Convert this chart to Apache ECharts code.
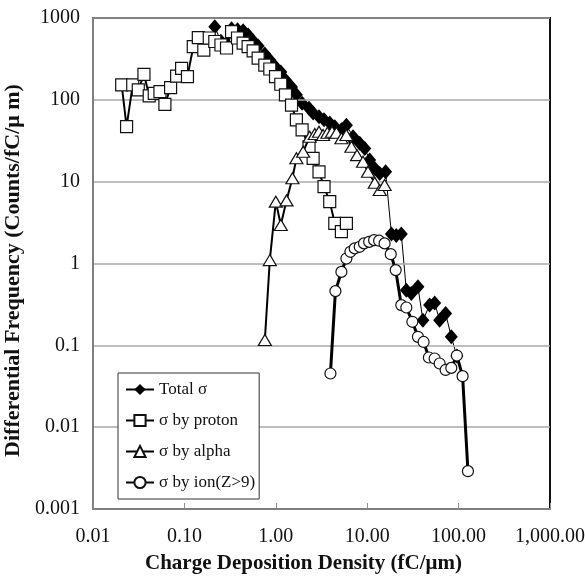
<!DOCTYPE html>
<html>
<head>
<meta charset="utf-8">
<script src="https://cdn.jsdelivr.net/npm/echarts@6/dist/echarts.min.js"></script>
<style>
  html, body { margin: 0; padding: 0; background: #fff; }
  #chart { width: 585px; height: 577px; }
</style>
</head>
<body>
<div id="chart"></div>
<script>
// Charge deposition density bins (fC/um) and differential frequencies (counts/fC/um)
const totalX = [0.215, 0.251, 0.289, 0.328, 0.381, 0.439, 0.498, 0.565, 0.641, 0.758, 0.86, 0.993, 1.134, 1.276, 1.486, 1.68, 1.94, 2.31, 2.56, 2.97, 3.37, 3.89, 4.42, 5.22, 5.92, 7.0, 8.28, 9.4, 10.65, 12.1, 13.7, 15.9, 18.4, 20.8, 23.6, 26.8, 30.4, 35.9, 40.7, 48.2, 54.7, 62, 72.1, 83.2, 95.7];
const totalY = [780, 520, 480, 740, 720, 700, 619, 523, 455, 363, 307, 252, 219, 175, 143, 115, 91, 79, 69, 62, 57, 52, 47, 43, 49, 35.4, 29.4, 25.5, 18.4, 14.5, 12.6, 13.2, 2.3, 2.2, 2.3, 0.47, 0.43, 0.52, 0.203, 0.31, 0.33, 0.203, 0.245, 0.127, 0.074];

const protonX = [0.0206, 0.0233, 0.0272, 0.0313, 0.0361, 0.0412, 0.0468, 0.054, 0.0612, 0.0706, 0.0822, 0.0932, 0.108, 0.125, 0.142, 0.163, 0.187, 0.215, 0.251, 0.289, 0.328, 0.381, 0.439, 0.498, 0.565, 0.641, 0.758, 0.86, 0.993, 1.134, 1.276, 1.486, 1.68, 1.94, 2.31, 2.56, 2.97, 3.37, 3.89, 4.42, 5.22, 5.92];
const protonY = [152, 47, 152, 132, 205, 112, 120, 126, 88, 141, 195, 243, 192, 446, 575, 406, 570, 516, 468, 430, 680, 570, 494, 446, 396, 324, 266, 238, 192, 155, 115, 86, 57, 43, 26.7, 19.3, 13.2, 8.7, 5.7, 3.1, 2.45, 3.1];

const alphaX = [0.759, 0.86, 1.0, 1.134, 1.31, 1.52, 1.68, 1.99, 2.35, 2.67, 2.97, 3.29, 3.67, 4.12, 4.61, 5.22, 5.92, 6.72, 7.74, 9.0, 10.2, 12.1, 13.7, 15.5];
const alphaY = [0.116, 1.1, 5.7, 2.95, 5.9, 11, 19.3, 23.2, 35.4, 38.3, 40.7, 37.2, 39.6, 40.7, 39.6, 33.9, 37.2, 26.7, 21.1, 17.5, 13.2, 9.7, 7.9, 9.1];

const ionX = [3.96, 4.49, 5.22, 5.92, 6.55, 7.3, 8.28, 9.23, 10.5, 11.9, 13.5, 15.5, 18.1, 20.5, 23.6, 26.8, 31.2, 35.9, 41.4, 47.3, 54.7, 62, 72.1, 83.2, 95.7, 110.6, 126.5];
const ionY = [0.0453, 0.46, 0.79, 1.15, 1.39, 1.53, 1.6, 1.76, 1.84, 1.93, 1.9, 1.76, 1.3, 0.83, 0.31, 0.29, 0.194, 0.127, 0.110, 0.071, 0.069, 0.060, 0.050, 0.053, 0.075, 0.042, 0.0029];

const xTickLabels = ['0.01', '0.10', '1.00', '10.00', '100.00', '1,000.00'];
const yTickLabels = ['0.001', '0.01', '0.1', '1', '10', '100', '1000'];
const seriesNames = ['Total σ', 'σ by proton', 'σ by alpha', 'σ by ion(Z>9)'];

const pairs = (xs, ys) => xs.map((x, i) => [x, ys[i]]);
const serif = '"Liberation Serif", "Times New Roman", serif';
const decadeIndex = v => Math.round(Math.log10(v));
const X_RANGE = { min: 0.01, max: 1000 };
const Y_RANGE = { min: 0.001, max: 1000 };

// Plain frame axes for the top and right edges of the plot box
const frameAxis = (pos, range) => Object.assign({
  type: 'log', logBase: 10, position: pos,
  axisLine: { show: true, onZero: false, lineStyle: { color: '#111', width: 2 } },
  axisTick: { show: false }, axisLabel: { show: false }, splitLine: { show: false }
}, range);

const chart = echarts.init(document.getElementById('chart'), null, { renderer: 'canvas' });

chart.setOption({
  animation: false,
  backgroundColor: '#fff',
  grid: {
    left: 93, right: 35, top: 18, bottom: 68,
    containLabel: false, outerBoundsMode: 'none', show: false
  },
  xAxis: [
    Object.assign({
      type: 'log', logBase: 10, position: 'bottom',
      name: 'Charge Deposition Density (fC/μm)',
      nameLocation: 'middle', nameGap: 44,
      nameTextStyle: {
        fontFamily: serif, fontSize: 21, fontWeight: 'bold', color: '#111',
        padding: [0, 36, 0, 0]
      },
      axisLine: { show: true, onZero: false, lineStyle: { color: '#7f7f7f', width: 2 } },
      axisTick: { show: true, inside: true, length: 6, lineStyle: { color: '#8c8c8c', width: 1 } },
      minorTick: { show: false },
      splitLine: { show: false },
      axisLabel: {
        fontFamily: serif, fontSize: 20, color: '#111', margin: 18,
        formatter: v => xTickLabels[decadeIndex(v) + 2]
      },
      z: 3
    }, X_RANGE),
    frameAxis('top', X_RANGE)
  ],
  yAxis: [
    Object.assign({
      type: 'log', logBase: 10, position: 'left',
      name: 'Differential Frequency (Counts/fC/μ m)',
      nameLocation: 'middle', nameGap: 46, nameRotate: 90,
      nameTextStyle: {
        fontFamily: serif, fontSize: 22, fontWeight: 'bold', color: '#111',
        padding: [0, 14, 0, 0]
      },
      axisLine: { show: true, onZero: false, lineStyle: { color: '#7f7f7f', width: 2 } },
      axisTick: { show: false },
      splitLine: { show: true, lineStyle: { color: '#a8a8a8', width: 1.5 } },
      axisLabel: {
        fontFamily: serif, fontSize: 20, color: '#111', margin: 13,
        formatter: v => yTickLabels[decadeIndex(v) + 3]
      },
      z: 3
    }, Y_RANGE),
    frameAxis('right', Y_RANGE)
  ],
  legend: {
    orient: 'vertical',
    left: 118, top: 373,
    backgroundColor: '#fff',
    borderColor: '#333', borderWidth: 1,
    padding: [8, 4, 8, 7],
    itemWidth: 28, itemHeight: 14, itemGap: 14,
    textStyle: { fontFamily: serif, fontSize: 17, color: '#111' },
    data: seriesNames
  },
  series: [
    {
      name: seriesNames[0], type: 'line', data: pairs(totalX, totalY),
      symbol: 'diamond', symbolSize: [13, 15],
      itemStyle: { color: '#000', borderColor: '#000', borderWidth: 0 },
      lineStyle: { color: '#000', width: 1 },
      z: 2
    },
    {
      name: seriesNames[1], type: 'line', data: pairs(protonX, protonY),
      symbol: 'rect', symbolSize: 12,
      itemStyle: { color: '#fff', borderColor: '#111', borderWidth: 1.2 },
      lineStyle: { color: '#000', width: 2 },
      z: 3
    },
    {
      name: seriesNames[2], type: 'line', data: pairs(alphaX, alphaY),
      symbol: 'triangle', symbolSize: [13, 11],
      itemStyle: { color: '#fff', borderColor: '#111', borderWidth: 1.2 },
      lineStyle: { color: '#000', width: 2 },
      z: 4
    },
    {
      name: seriesNames[3], type: 'line', data: pairs(ionX, ionY),
      symbol: 'circle', symbolSize: 11,
      itemStyle: { color: '#fff', borderColor: '#111', borderWidth: 1.2 },
      lineStyle: { color: '#000', width: 3 },
      z: 5
    }
  ]
});
</script>
</body>
</html>
